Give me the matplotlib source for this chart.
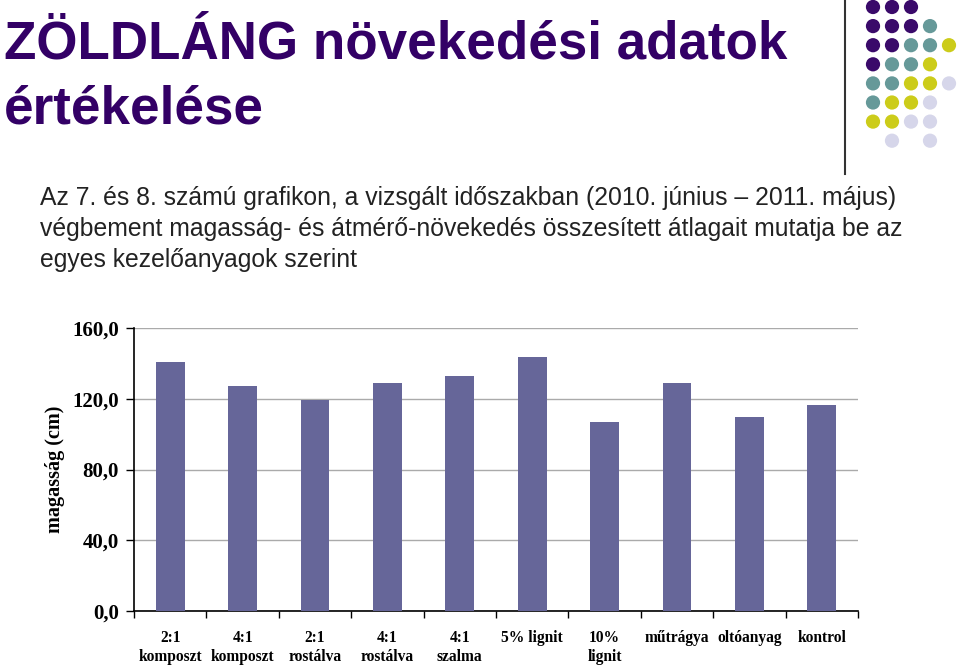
import matplotlib
matplotlib.use("Agg")
import matplotlib.pyplot as plt

categories = ["2:1\nkomposzt", "4:1\nkomposzt", "2:1\nrostálva", "4:1\nrostálva",
              "4:1\nszalma", "5% lignit", "10%\nlignit", "műtrágya", "oltóanyag", "kontrol"]
values = [140.9, 127.0, 119.3, 129.1, 132.7, 143.8, 106.9, 128.9, 109.7, 116.5]
yticks = [0, 40, 80, 120, 160]
ytick_labels = ["0,0", "40,0", "80,0", "120,0", "160,0"]

title = "ZÖLDLÁNG növekedési adatok\nértékelése"
body = ("Az 7. és 8. számú grafikon, a vizsgált időszakban (2010. június – 2011. május)\n"
        "végbement magasság- és átmérő-növekedés összesített átlagait mutatja be az\n"
        "egyes kezelőanyagok szerint")

# decorative dot grid (column, row, colour key)
P, T, Y, L = "#3a0a6a", "#669999", "#cccc1a", "#d6d6ea"
dot_cols = [0, 1, 2, 0, 1, 2, 3, 0, 1, 2, 3, 4, 0, 1, 2, 3, 0, 1, 2, 3, 4, 0, 1, 2, 3, 0, 1, 2, 3, 1, 3]
dot_rows = [0, 0, 0, 1, 1, 1, 1, 2, 2, 2, 2, 2, 3, 3, 3, 3, 4, 4, 4, 4, 4, 5, 5, 5, 5, 6, 6, 6, 6, 7, 7]
dot_colors = [P, P, P, P, P, P, T, P, P, T, T, Y, P, T, T, Y, T, T, Y, Y, L, T, Y, Y, L, Y, Y, L, L, L, L]

fig = plt.figure(figsize=(9.6, 6.66), dpi=100)

# title and body text (anchored at last line's baseline)
fig.text(4 / 960, 1 - 123 / 666, title, ha="left", va="baseline", fontsize=38.2, fontweight="bold",
         family="Liberation Sans", color="#330066", linespacing=1.36)
fig.text(40 / 960, 1 - 267 / 666, body, ha="left", va="baseline", fontsize=17.8,
         family="Liberation Sans", color="#222222", linespacing=1.37)

# dots
dax = fig.add_axes([0, 0, 1, 1], zorder=-1)
dax.set_xlim(0, 960)
dax.set_ylim(666, 0)
dax.axis("off")
dax.scatter([873 + 19 * c for c in dot_cols], [7 + 19.1 * r for r in dot_rows],
            s=105, c=dot_colors, linewidths=0)
dax.plot([845, 845], [0, 174], color="#333333", lw=1.5)

# bar chart
ax = fig.add_axes([134 / 960, 55 / 666, (858 - 134) / 960, (611 - 328) / 666])
x = range(len(categories))
ax.bar(x, values, width=0.4, color="#666699", zorder=3)
ax.set_xlim(-0.5, len(categories) - 0.5)
ax.set_ylim(0, 160)
ax.set_yticks(yticks)
ax.set_yticklabels(ytick_labels, family="Liberation Serif", fontweight="bold", fontsize=15)
ax.set_xticks(list(x))
ax.set_xticklabels(categories, family="Liberation Serif", fontweight="bold", fontsize=11.2,
                   linespacing=1.2)
ax.set_xticks([i - 0.5 for i in range(len(categories) + 1)], minor=True)
ax.tick_params(axis="x", which="major", length=0, pad=14)
ax.tick_params(axis="x", which="minor", length=5, width=1, direction="out")
ax.tick_params(axis="y", length=6, width=1, direction="out", pad=5)
ax.yaxis.grid(True, color="#aaaaaa", lw=1)
ax.set_axisbelow(True)
for s in ("top", "right"):
    ax.spines[s].set_visible(False)
for s in ("left", "bottom"):
    ax.spines[s].set_linewidth(1.2)
ax.set_ylabel("magasság (cm)", family="Liberation Serif", fontweight="bold", fontsize=14.5,
              labelpad=5)

fig.savefig("out.png", dpi=100)
